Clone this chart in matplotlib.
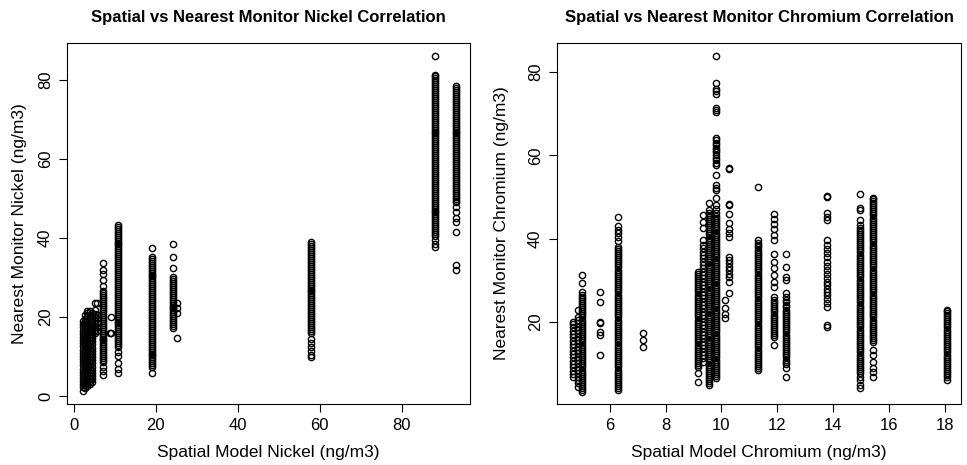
import numpy as np
import matplotlib
matplotlib.use("Agg")
import matplotlib.pyplot as plt

plt.rcParams['font.family'] = ['Liberation Sans', 'DejaVu Sans']

#################
### nickel data ###
#################
# each column: spatial model value -> nearest monitor values
ni_x = [2.2, 2.7, 3.3, 3.9, 4.5, 5.1, 5.6, 7.1, 8.8, 9.0, 10.7, 19.2, 24.2, 25.1, 57.8, 88.0, 93.3]
ni_y = [
    [1.4, 2.3, 3.0, 3.8, 4.6, 5.4, 6.2, 7.0, 7.8, 8.6, 9.4, 10.2, 11.0, 11.8, 12.6, 13.4, 14.2, 15.0, 15.8, 16.6, 17.4, 18.2, 19.0],
    [2.0, 2.8, 3.6, 4.4, 5.2, 6.0, 6.8, 7.6, 8.4, 9.2, 10.0, 10.8, 11.6, 12.4, 13.2, 14.0, 14.8, 15.6, 16.4, 17.2, 18.0, 18.8, 19.6, 20.5],
    [2.6, 3.4, 4.2, 5.0, 5.8, 6.6, 7.4, 8.2, 9.0, 9.8, 10.6, 11.4, 12.2, 13.0, 13.8, 14.6, 15.4, 16.2, 17.0, 17.8, 18.6, 19.4, 20.2, 21.0, 21.6],
    [3.0, 3.8, 4.6, 5.4, 6.2, 7.0, 7.8, 8.6, 9.4, 10.2, 11.0, 11.8, 12.6, 13.4, 14.2, 15.0, 15.8, 16.6, 17.4, 18.2, 19.0, 19.8, 20.6, 21.6],
    [3.5, 4.3, 5.1, 5.9, 6.7, 7.5, 8.3, 9.1, 9.9, 10.7, 11.5, 12.3, 13.1, 13.9, 14.7, 15.5, 16.3, 17.1, 17.9, 18.7, 19.5, 20.3, 21.0],
    [16.0, 16.8, 17.6, 18.4, 19.2, 20.0, 20.8, 21.8, 23.5],
    [16.5, 17.5, 18.5, 19.7, 20.5, 23.5],
    [5.3, 6.5, 7.5, 8.6, 9.1, 9.6, 10.1, 10.6, 11.1, 11.6, 12.1, 12.6, 13.1, 13.6, 14.1, 14.6, 15.1, 15.6, 16.1, 16.6, 17.1, 17.6,
     18.1, 18.6, 19.1, 19.6, 20.1, 20.6, 21.1, 21.6, 22.1, 22.6, 23.1, 23.6, 24.1, 24.6, 25.1, 25.6, 26.1, 26.6, 28.0, 29.5, 31.0, 32.0, 33.7],
    [16.0],
    [16.0, 20.0],
    [5.8, 7.0, 8.4, 10.2, 11.3, 12.4, 12.9, 13.4, 13.9, 14.4, 14.9, 15.4, 15.9, 16.4, 16.9, 17.4, 17.9, 18.4, 18.9, 19.4, 19.9,
     20.4, 20.9, 21.4, 21.9, 22.4, 22.9, 23.4, 23.9, 24.4, 24.9, 25.4, 25.9, 26.4, 26.9, 27.4, 27.9, 28.4, 28.9, 29.4, 29.9,
     30.4, 30.9, 31.4, 31.9, 32.4, 32.9, 33.4, 33.9, 34.4, 34.9, 35.4, 35.9, 36.4, 36.9, 37.4, 37.9, 38.4, 38.9, 39.4, 39.9,
     40.4, 40.9, 41.4, 41.9, 42.4, 42.9, 43.3],
    [5.8, 7.3, 7.8, 8.3, 8.8, 9.3, 9.8, 10.3, 10.8, 11.3, 11.8, 12.3, 12.8, 13.3, 13.8, 14.3, 14.8, 15.3, 15.8, 16.3, 16.8,
     17.3, 17.8, 18.3, 18.8, 19.3, 19.8, 20.3, 20.8, 21.3, 21.8, 22.3, 22.8, 23.3, 23.8, 24.3, 24.8, 25.3, 25.8, 26.3, 26.8,
     27.3, 27.8, 28.3, 28.8, 29.3, 29.8, 30.3, 30.8, 31.3, 31.8, 32.3, 32.8, 33.3, 33.8, 34.3, 34.8, 35.2, 37.5],
    [17.2, 17.7, 18.2, 18.7, 19.2, 19.7, 20.2, 20.7, 21.2, 21.7, 22.2, 22.7, 23.2, 23.7, 24.2, 24.7, 25.2, 25.7, 26.2, 26.7,
     27.2, 27.7, 28.2, 28.7, 29.2, 29.7, 30.1, 32.4, 35.2, 38.5],
    [14.7, 21.0, 22.2, 23.5],
    [9.9, 10.5, 11.5, 12.5, 13.5, 14.5, 16.0, 16.5, 17.0, 17.5, 18.0, 18.5, 19.0, 19.5, 20.0, 20.5, 21.0, 21.5, 22.0, 22.5,
     23.0, 23.5, 24.0, 24.5, 25.0, 25.5, 26.0, 26.5, 27.0, 27.5, 28.0, 28.5, 29.0, 29.5, 30.0, 30.5, 31.0, 31.5, 32.0, 32.5,
     33.0, 33.5, 34.0, 34.5, 35.0, 35.5, 36.0, 36.5, 37.0, 37.5, 38.0, 38.5, 39.0],
    [37.7, 38.5, 39.5, 40.5, 41.0, 41.5, 42.0, 42.5, 43.0, 43.5, 44.0, 44.5, 45.0, 45.5, 46.0, 46.5, 47.0, 47.5, 48.0, 48.5,
     49.0, 49.5, 50.0, 50.5, 51.0, 51.5, 52.0, 52.5, 53.0, 53.5, 54.0, 54.5, 55.0, 55.5, 56.0, 56.5, 57.0, 57.5, 58.0, 58.5,
     59.0, 59.5, 60.0, 60.5, 61.0, 61.5, 62.0, 62.5, 63.0, 63.5, 64.0, 64.5, 65.0, 65.5, 66.0, 66.5, 67.0, 67.5, 68.0, 68.5,
     69.0, 69.5, 70.0, 70.5, 71.0, 71.5, 72.0, 72.5, 73.0, 73.5, 74.0, 74.5, 75.0, 75.5, 76.0, 76.5, 77.0, 77.5, 78.0, 78.5,
     79.0, 79.5, 80.0, 80.5, 81.0, 81.3, 86.0],
    [32.0, 33.2, 41.5, 44.0, 45.0, 46.5, 48.0, 49.1, 49.5, 50.0, 50.5, 51.0, 51.5, 52.0, 52.5, 53.0, 53.5, 54.0, 54.5, 55.0,
     55.5, 56.0, 56.5, 57.0, 57.5, 58.0, 58.5, 59.0, 59.5, 60.0, 60.5, 61.0, 61.5, 62.0, 62.5, 63.0, 63.5, 64.0, 64.5, 65.0,
     65.5, 66.0, 66.5, 67.0, 67.5, 68.0, 68.5, 69.0, 69.5, 70.0, 70.5, 71.0, 71.5, 72.0, 72.5, 73.0, 73.5, 74.0, 74.5, 75.0,
     75.5, 76.0, 76.5, 77.0, 77.5, 78.0, 78.5],
]

###################
### chromium data ###
###################
cr_x = [4.67, 4.85, 5.0, 5.66, 6.3, 7.2, 9.15, 9.33, 9.55, 9.8, 10.12, 10.27, 11.3, 11.9, 12.3, 13.78, 14.96, 15.43, 18.08]
cr_y = [
    [6.7, 7.5, 8.3, 9.1, 9.9, 10.7, 11.5, 12.3, 13.1, 13.9, 14.7, 15.5, 16.3, 17.1, 17.9, 18.7, 19.5, 19.9],
    [4.5, 5.3, 6.1, 6.9, 7.7, 8.5, 9.3, 10.1, 10.9, 11.7, 12.5, 13.3, 14.1, 14.9, 15.7, 16.5, 17.3, 18.1, 18.9, 19.7, 20.5, 21.3, 22.8],
    [3.1, 3.6, 4.1, 4.6, 5.1, 5.6, 6.1, 6.6, 7.1, 7.6, 8.1, 8.6, 9.1, 9.6, 10.1, 10.6, 11.1, 11.6, 12.1, 12.6, 13.1, 13.6,
     14.1, 14.6, 15.1, 15.6, 16.1, 16.6, 17.1, 17.6, 18.1, 18.6, 19.1, 19.6, 20.1, 20.6, 21.1, 21.6, 22.1, 22.6, 23.1, 23.6,
     24.1, 24.6, 25.1, 25.6, 26.1, 26.6, 27.1, 29.3, 31.2],
    [12.0, 16.8, 17.5, 19.7, 20.1, 24.7, 27.3],
    [3.6, 4.1, 4.6, 5.1, 5.6, 6.1, 6.6, 7.1, 7.6, 8.1, 8.6, 9.1, 9.6, 10.1, 10.6, 11.1, 11.6, 12.1, 12.6, 13.1, 13.6, 14.1,
     14.6, 15.1, 15.6, 16.1, 16.6, 17.1, 17.6, 18.1, 18.6, 19.1, 19.6, 20.1, 20.6, 21.1, 21.6, 22.1, 22.6, 23.1, 23.6, 24.1,
     24.6, 25.1, 25.6, 26.1, 26.6, 27.1, 27.6, 28.1, 28.6, 29.1, 29.6, 30.1, 30.6, 31.1, 31.6, 32.1, 32.6, 33.1, 33.6, 34.1,
     34.6, 35.1, 35.6, 36.1, 36.6, 37.1, 37.6, 38.0, 39.5, 40.5, 41.5, 42.0, 43.0, 45.3],
    [13.9, 15.6, 17.3],
    [5.5, 7.7, 9.1, 9.6, 10.1, 10.6, 11.1, 11.6, 12.1, 12.6, 13.1, 13.6, 14.1, 14.6, 15.1, 15.6, 16.1, 16.6, 17.1, 17.6, 18.1,
     18.6, 19.1, 19.6, 20.1, 20.6, 21.1, 21.6, 22.1, 22.6, 23.1, 23.6, 24.1, 24.6, 25.1, 25.6, 26.1, 26.6, 27.1, 27.6, 28.1,
     28.6, 29.1, 29.6, 30.1, 30.6, 31.1, 31.6, 31.9],
    [10.5, 11.3, 12.1, 12.9, 13.7, 14.5, 15.3, 16.1, 16.9, 17.7, 18.5, 19.3, 20.1, 20.9, 21.7, 22.5, 23.3, 24.1, 24.9, 25.7,
     26.5, 27.3, 28.1, 28.9, 29.7, 30.5, 31.3, 32.1, 32.9, 33.7, 34.5, 35.3, 36.1, 36.9, 37.7, 38.5, 39.6, 42.5, 44.0, 45.6],
    [4.8, 5.3, 5.8, 6.3, 6.8, 7.3, 7.8, 8.3, 8.8, 9.3, 9.8, 10.3, 10.8, 11.3, 11.8, 12.3, 12.8, 13.3, 13.8, 14.3, 14.8, 15.3,
     15.8, 16.3, 16.8, 17.3, 17.8, 18.3, 18.8, 19.3, 19.8, 20.3, 20.8, 21.3, 21.8, 22.3, 22.8, 23.3, 23.8, 24.3, 24.8, 25.3,
     25.8, 26.3, 26.8, 27.3, 27.8, 28.3, 28.8, 29.3, 29.8, 30.3, 30.8, 31.3, 31.8, 32.3, 32.8, 33.3, 33.8, 34.3, 34.8, 35.3,
     35.8, 36.3, 36.8, 37.3, 37.8, 38.3, 38.8, 39.3, 39.8, 40.3, 40.8, 41.3, 41.8, 42.3, 42.8, 43.3, 43.8, 44.3, 44.8, 45.3,
     45.8, 46.3, 46.8, 48.6],
    [6.5, 7.0, 7.5, 8.0, 8.5, 9.0, 9.5, 10.0, 10.5, 11.0, 11.5, 12.0, 12.5, 13.0, 13.5, 14.0, 14.5, 15.0, 15.5, 16.0, 16.5,
     17.0, 17.5, 18.0, 18.5, 19.0, 19.5, 20.0, 20.5, 21.0, 21.5, 22.0, 22.5, 23.0, 23.5, 24.0, 24.5, 25.0, 25.5, 26.0, 26.5,
     27.0, 27.5, 28.0, 28.5, 29.0, 29.5, 30.0, 30.5, 31.0, 31.5, 32.0, 32.5, 33.0, 33.5, 34.0, 34.5, 35.0, 35.5, 36.0, 36.5,
     37.0, 37.5, 38.0, 38.5, 39.0, 39.5, 40.0, 40.5, 41.0, 41.5, 42.0, 42.5, 43.0, 43.5, 44.0, 44.5, 45.0, 45.5, 46.2, 47.1,
     48.0, 49.9, 51.6, 52.2, 52.8, 55.4, 57.6, 58.3, 58.9, 59.5, 60.2, 60.8, 61.4, 61.9, 62.4, 63.0, 63.6, 64.3, 70.5, 71.0,
     71.5, 74.8, 75.4, 76.0, 77.5, 83.9],
    [20.9, 22.0, 23.3, 25.2],
    [26.9, 29.5, 30.7, 31.6, 32.4, 33.3, 34.1, 35.0, 35.5, 40.5, 41.5, 42.3, 43.9, 46.0, 48.0, 48.4, 56.8, 57.1],
    [8.4, 8.9, 9.4, 9.9, 10.4, 10.9, 11.4, 11.9, 12.4, 12.9, 13.4, 13.9, 14.4, 14.9, 15.4, 15.9, 16.4, 16.9, 17.4, 17.9, 18.4,
     18.9, 19.4, 19.9, 20.4, 20.9, 21.4, 21.9, 22.4, 22.9, 23.4, 23.9, 24.4, 24.9, 25.4, 25.9, 26.4, 26.9, 27.4, 27.9, 28.4,
     28.9, 29.4, 29.9, 30.4, 30.9, 31.4, 31.9, 32.4, 32.9, 33.4, 33.9, 34.4, 34.9, 35.4, 35.9, 36.4, 36.9, 37.4, 37.9, 38.4,
     38.9, 39.6, 52.5],
    [14.6, 16.3, 16.8, 17.3, 17.8, 18.3, 18.8, 19.3, 19.8, 20.3, 20.8, 21.3, 21.8, 22.3, 22.8, 23.3, 23.8, 24.3, 24.8, 25.3,
     25.9, 28.3, 29.5, 31.2, 33.0, 34.5, 36.4, 39.6, 40.8, 42.4, 43.6, 44.8, 46.0],
    [6.7, 8.9, 10.0, 10.5, 11.0, 11.5, 12.0, 12.5, 13.0, 13.5, 14.0, 14.5, 15.0, 15.5, 16.0, 16.5, 17.0, 17.5, 18.0, 18.5,
     19.0, 19.5, 20.0, 20.5, 21.0, 21.5, 22.0, 22.5, 23.0, 23.5, 24.0, 24.7, 25.2, 26.0, 26.9, 30.2, 30.7, 33.1, 36.4],
    [18.7, 19.2, 23.5, 24.5, 25.5, 26.5, 27.3, 28.0, 28.8, 29.5, 30.5, 31.5, 32.5, 33.5, 34.5, 35.5, 36.5, 37.5, 38.5, 39.6,
     44.4, 45.2, 46.3, 50.1, 50.3],
    [4.1, 5.0, 6.0, 6.7, 7.7, 8.2, 8.7, 9.2, 9.7, 10.2, 10.7, 11.2, 11.7, 12.2, 12.7, 13.2, 13.7, 14.2, 14.7, 15.2, 15.7,
     16.2, 16.7, 17.2, 17.7, 18.2, 18.7, 19.2, 19.7, 20.2, 20.7, 21.2, 21.7, 22.2, 22.7, 23.2, 23.7, 24.2, 24.7, 25.2, 25.7,
     26.2, 26.7, 27.2, 27.7, 28.2, 28.7, 29.2, 29.7, 30.2, 30.7, 31.2, 31.7, 32.2, 32.7, 33.2, 33.7, 34.2, 34.7, 35.2, 35.7,
     36.2, 36.7, 37.2, 37.7, 38.2, 38.7, 39.2, 39.7, 40.2, 40.7, 41.2, 41.7, 42.2, 42.7, 43.2, 44.4, 46.8, 47.5, 50.8],
    [6.7, 7.9, 8.9, 10.3, 12.0, 13.2, 15.1, 15.6, 16.1, 16.6, 17.1, 17.6, 18.1, 18.6, 19.1, 19.6, 20.1, 20.6, 21.1, 21.6,
     22.1, 22.6, 23.1, 23.6, 24.1, 24.6, 25.1, 25.6, 26.1, 26.6, 27.1, 27.6, 28.1, 28.6, 29.1, 29.6, 30.1, 30.6, 31.1, 31.6,
     32.1, 32.6, 33.1, 33.6, 34.1, 34.6, 35.1, 35.6, 36.1, 36.6, 37.1, 37.6, 38.1, 38.6, 39.1, 39.6, 40.1, 40.6, 41.1, 41.6,
     42.1, 42.6, 43.1, 43.6, 44.1, 44.6, 45.1, 45.6, 46.1, 46.6, 47.1, 47.6, 48.1, 48.6, 49.1, 49.6, 49.9],
    [6.2, 6.7, 7.2, 7.7, 8.2, 8.7, 9.2, 9.7, 10.2, 10.7, 11.2, 11.7, 12.2, 12.7, 13.2, 13.7, 14.2, 14.7, 15.2, 15.7, 16.2,
     16.7, 17.2, 17.7, 18.2, 18.7, 19.2, 19.7, 20.2, 20.7, 21.2, 21.7, 22.2, 22.7, 23.0],
]

fig1 = plt.figure(figsize=(9.67, 4.65), dpi=100)
ax1 = fig1.add_axes([0.0693, 0.131, 0.4167, 0.7765])
ax2 = fig1.add_axes([0.576, 0.131, 0.4178, 0.7765])


def draw(ax, xs, ys):
    for x, col in zip(xs, ys):
        ax.plot([x] * len(col), col, 'o', ms=4.5, mfc='none', mec='black', mew=1.0)


draw(ax1, ni_x, ni_y)
draw(ax2, cr_x, cr_y)

ax1.set_xlim(-1.64, 96.64)
ax1.set_ylim(-2.0, 89.4)
ax1.set_xticks([0, 20, 40, 60, 80])
ax1.set_yticks([0, 20, 40, 60, 80])
ax1.set_title('Spatial vs Nearest Monitor Nickel Correlation', fontsize=12, fontweight='bold', pad=15)
ax1.set_xlabel('Spatial Model Nickel (ng/m3)', fontsize=12.5, labelpad=9)
ax1.set_ylabel('Nearest Monitor Nickel (ng/m3)', fontsize=12.5, labelpad=8)

ax2.set_xlim(4.11, 18.59)
ax2.set_ylim(0.3, 87.0)
ax2.set_xticks([6, 8, 10, 12, 14, 16, 18])
ax2.set_yticks([20, 40, 60, 80])
ax2.set_title('Spatial vs Nearest Monitor Chromium Correlation', fontsize=12, fontweight='bold', pad=15)
ax2.set_xlabel('Spatial Model Chromium (ng/m3)', fontsize=12.5, labelpad=9)
ax2.set_ylabel('Nearest Monitor Chromium (ng/m3)', fontsize=12.5, labelpad=14)

for ax in (ax1, ax2):
    ax.tick_params(direction='out', length=6, width=0.8, labelsize=12, pad=4)
    for lab in ax.get_yticklabels():
        lab.set_rotation(90)
        lab.set_va('center')
    for sp in ax.spines.values():
        sp.set_linewidth(0.8)

fig1.savefig('out.png', dpi=100)
